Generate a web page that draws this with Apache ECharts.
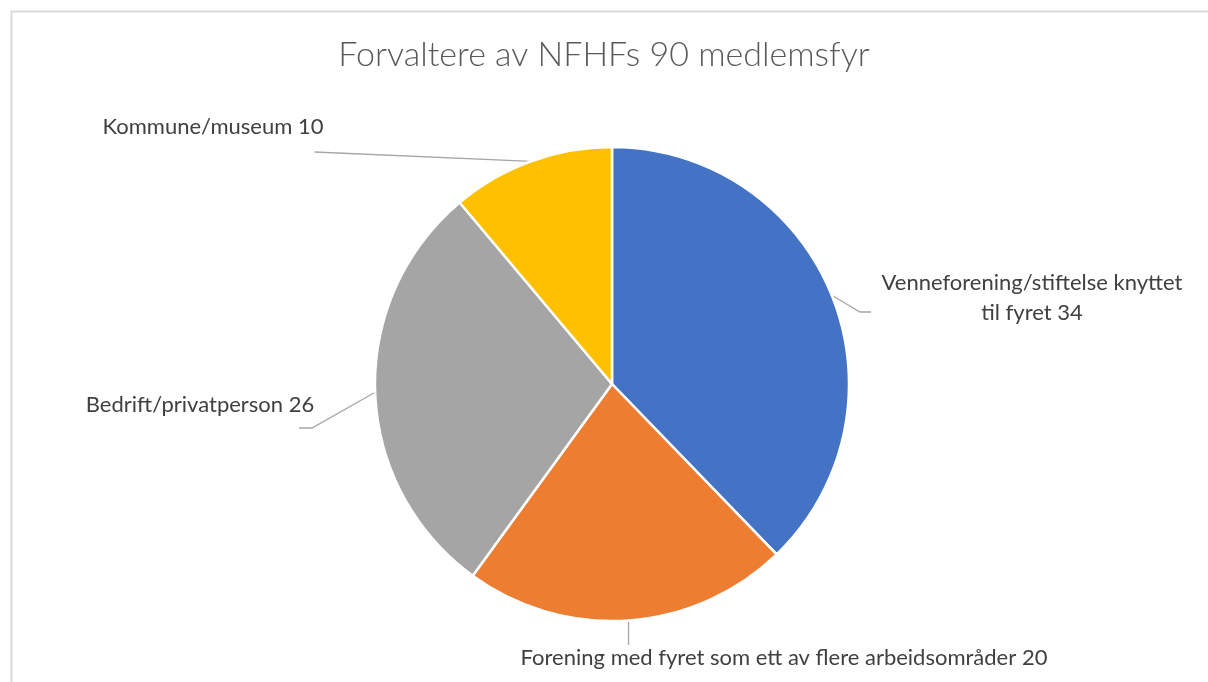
<!DOCTYPE html>
<html>
<head>
<meta charset="utf-8">
<script src="https://cdn.jsdelivr.net/npm/echarts@6/dist/echarts.min.js"></script>
<style>
html,body{margin:0;padding:0;background:#fff;}
#chart{width:1208px;height:682px;}
</style>
</head>
<body>
<div id="chart"></div>
<script>
const categories = [
  'Venneforening/stiftelse knyttet\ntil fyret',
  'Forening med fyret som ett av flere arbeidsområder',
  'Bedrift/privatperson',
  'Kommune/museum'
];
const values = [34, 20, 26, 10];
const colors = ['#4472C4', '#ED7D31', '#A5A5A5', '#FFC000'];

// label anchor layout (pixel placement of the text boxes)
const labelAnchors = [
  {x: 1032, y: 298, w: 306, h: 46},
  {x: 784, y: 658, w: 538, h: 22},
  {x: 200, y: 405, w: 230, h: 22},
  {x: 213, y: 127, w: 207, h: 22}
];

const chart = echarts.init(document.getElementById('chart'));
const data = categories.map((c, i) => ({name: c, value: values[i], itemStyle: {color: colors[i]}}));

chart.setOption({
  animation: false,
  title: {
    text: 'Forvaltere av NFHFs 90 medlemsfyr',
    left: 'center',
    top: 33,
    textStyle: {fontFamily: 'Lato', fontWeight: 300, fontSize: 34, color: '#595959'}
  },
  graphic: [{
    type: 'rect', left: 9, top: 9,
    shape: {x: 0, y: 0, width: 1300, height: 800},
    style: {fill: 'none', stroke: '#d9d9d9', lineWidth: 2},
    silent: true
  }],
  series: [{
    type: 'pie',
    center: [612, 384],
    radius: [0, 237],
    startAngle: 90,
    clockwise: true,
    data: data,
    itemStyle: {borderColor: '#fff', borderWidth: 2.5},
    label: {
      show: true,
      formatter: p => p.name + ' ' + p.value,
      fontFamily: 'Lato',
      fontSize: 22,
      color: '#404040',
      lineHeight: 30,
      align: 'center'
    },
    labelLine: {show: true, length: 20, length2: 10, lineStyle: {color: '#a6a6a6', width: 1.3}},
    labelLayout: function (params) {
      const i = params.dataIndex;
      const a = labelAnchors[i];
      const s = params.labelLinePoints ? params.labelLinePoints[0] : [0, 0];
      let pts;
      const left = a.x - a.w / 2, right = a.x + a.w / 2;
      if (i === 0) pts = [s, [left - 19, a.y + 14], [left - 8, a.y + 14]];
      else if (i === 1) pts = [s, [s[0], a.y - 13], [s[0], a.y - 13]];
      else if (i === 2) pts = [s, [right - 3, a.y + 23], [right - 16, a.y + 23]];
      else pts = [s, [right - 2, a.y + 25], [right - 2, a.y + 25]];
      return {x: a.x, y: a.y, align: 'center', verticalAlign: 'middle', labelLinePoints: pts};
    }
  }]
});
</script>
</body>
</html>
